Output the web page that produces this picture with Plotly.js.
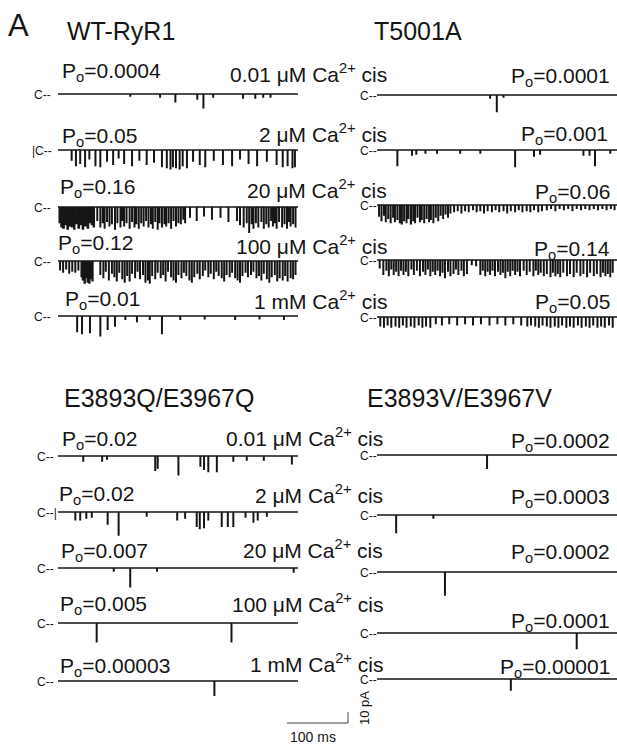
<!DOCTYPE html>
<html><head><meta charset="utf-8">
<script src="https://cdn.plot.ly/plotly-3.0.1.min.js"></script>
<style>html,body{margin:0;padding:0;background:#fff}#chart{width:617px;height:748px}</style>
</head><body><div id="chart"></div>
<script>
// ---------- DATA ----------
// Each event: [time ms, opening amplitude pA, duration ms (optional)]
const WT_001 = [[118,1.8],[167,2.7],[192,7],[228,4.5],[238,12.5],[254,2.7],[303,3.6],[323,3.6],[336,2.7],[348,2.7]];
const WT_2 = [[22,9],[29,14],[36,12],[44,15],[51,8],[61,14],[69,15],[80,10],[90,13],[99,7],[108,12],[121,14],[133,9],[145,13],[157,11],[170,15],[178,16],[184,17],[188,15],[193,16],[199,17],[204,14],[211,16],[221,10],[232,13],[241,15],[255,9],[270,13],[285,14],[298,8],[312,12],[326,14],[342,10],[358,13],[368,15],[376,14],[384,16],[388,15]];
const WT_20 = [[2,14,1.2],[5,18,1.5],[8,19,2],[12,16,1.2],[15,20,1.8],[19,17,1.2],[22,18,2],[26,20,1.5],[30,15,1.2],[33,19,2],[37,16,1.2],[40,20,1.8],[44,17,1.5],[48,19,2],[52,14,1.2],[55,16,1.2],[58,18,1.5],[64,12],[69,18],[73,14],[76,19],[80,13],[84,17],[88,15],[93,20],[97,14],[102,18],[105,12],[108,17],[112,14],[117,19],[121,13],[125,18],[128,15],[132,19],[136,14],[140,17],[144,12],[148,18],[152,15],[155,19],[159,13],[163,20],[166,14],[170,18],[174,15],[177,17],[181,14],[185,19],[189,12],[193,17],[197,14],[201,15],[205,11],[208,14],[216,9],[227,12],[239,8],[252,11],[266,9],[279,13],[293,12],[298,16],[304,18],[309,14],[313,23],[317,15],[320,19],[324,14],[328,18],[333,13],[337,19],[341,15],[345,18],[349,12],[352,17],[355,14],[358,19],[362,13],[367,18],[371,15],[375,19],[378,13],[381,17],[385,15],[389,18]];
const WT_100 = [[3,8],[8,10],[13,7],[18,11],[23,9],[28,10],[33,8],[38,14],[40,17,1.2],[43,20,1.5],[46,15],[48,19,1.5],[51,20,1.2],[53,16],[56,18,1.2],[69,12],[74,15],[78,9],[83,17],[88,11],[92,14],[96,18],[100,10],[105,16],[109,19],[113,13],[117,18],[121,11],[126,15],[130,9],[134,16],[139,12],[143,19],[147,17],[150,20],[154,13],[159,16],[163,10],[168,15],[172,12],[176,18],[180,9],[185,14],[189,17],[193,19],[197,12],[202,15],[206,10],[210,13],[215,17],[219,19],[223,14],[228,11],[232,16],[237,13],[241,8],[246,14],[250,11],[255,16],[259,9],[263,13],[268,15],[272,18],[276,12],[281,14],[285,10],[290,15],[294,17],[298,19],[302,13],[307,10],[311,14],[316,12],[320,9],[325,15],[329,13],[333,17],[337,11],[342,16],[346,19],[350,14],[355,12],[359,18],[363,15],[368,17],[372,13],[376,18],[381,15],[385,16],[389,12]];
const WT_1MM = [[31,14],[39,16],[52,15],[69,18],[81,12],[93,9],[110,3],[129,5],[150,3],[170,16],[200,3],[240,2.5],[290,3],[330,2.5],[370,3]];

const T_001 = [[185,2.7],[196,15],[207,1.8]];
const T_2 = [[33,14],[57,4.5],[64,3.6],[79,2.7],[98,2.7],[136,2.7],[169,2.7],[226,15],[257,5.5],[267,3.6],[338,4.5],[348,4.5],[357,14],[382,2.7]];
const T_20 = [[3,10],[7,14],[11,9],[14,15],[18,12],[22,16],[26,11],[29,15],[33,13],[37,16],[40,17,1.2],[44,14],[48,16],[51,12],[55,17,1.2],[59,14],[62,16],[66,11],[70,15],[73,13],[77,16],[81,12],[85,15],[88,13],[92,16],[96,11],[100,14],[104,9],[108,12],[112,8],[116,11],[120,7],[126,6],[132,5],[138,7],[144,5],[150,6],[157,4],[163,6],[169,5],[175,7],[181,5],[188,6],[194,4],[200,6],[207,5],[213,7],[219,5],[226,6],[232,4],[238,6],[245,5],[251,6],[257,4],[264,6],[270,5],[278,4],[285,3],[292,5],[299,3],[306,4],[313,3],[320,5],[327,3],[334,4],[341,3],[348,4],[355,3],[362,4],[369,3],[376,4],[383,3],[389,4]];
const T_100 = [[4,7],[10,13],[15,9],[19,14],[23,8],[27,13],[31,10],[35,14],[39,9],[43,13],[47,10],[51,14],[56,8],[60,13],[65,9],[70,14],[75,10],[79,13],[83,8],[87,14],[91,10],[95,13],[99,9],[103,14],[107,11],[111,16],[116,10],[120,14],[125,12],[129,8],[133,13],[138,9],[142,14],[147,12],[155,4],[162,5],[169,13],[173,9],[177,14],[181,10],[185,13],[189,9],[193,14],[198,10],[202,13],[206,11],[210,16],[214,10],[218,14],[222,9],[226,13],[230,10],[234,14],[240,9],[245,13],[250,10],[256,14],[260,9],[264,13],[268,11],[273,14],[278,12],[284,15],[288,11],[292,14],[296,12],[300,15],[305,11],[311,14],[316,12],[322,15],[327,11],[333,14],[338,12],[344,15],[349,11],[355,14],[360,12],[366,15],[370,11],[374,14],[378,12],[382,15],[386,11]];
const T_1MM = [[5,8],[11,9],[17,7],[23,9],[30,8],[36,9],[42,7],[48,9],[55,8],[61,9],[68,7],[74,9],[80,8],[87,9],[96,6],[106,7],[118,6],[131,7],[144,6],[157,7],[170,6],[184,7],[197,6],[210,7],[223,6],[236,7],[246,8],[252,7],[259,8],[265,9],[271,7],[278,8],[284,9],[291,8],[297,9],[303,7],[310,9],[316,8],[322,9],[329,7],[335,9],[342,8],[348,9],[354,7],[361,9],[367,8],[373,9],[380,7],[386,9]];

const Q_001 = [[41,4.5],[72,4.5],[80,2.7],[159,13],[163,11],[197,17],[233,9],[239,12],[246,14],[260,14],[287,4.5],[309,3.6],[337,3.6],[383,7]];
const Q_2 = [[28,7],[36,7],[46,5.5],[55,4.5],[81,11],[99,21],[145,3.6],[195,7],[208,5.5],[227,13],[232,15],[239,14],[246,7],[268,13],[278,13],[287,13],[307,4.5],[320,9],[327,7],[342,3.6]];
const Q_20 = [[91,2.7],[118,17],[162,2.7],[386,3.6]];
const Q_100 = [[63,17],[284,17]];
const Q_1MM = [[256,13]];

const V_001 = [[180,12]];
const V_2 = [[31,16],[92,2.7]];
const V_20 = [[111,21]];
const V_100 = [[327,14]];
const V_1MM = [[219,10]];

const TITLES = ["WT-RyR1","T5001A","E3893Q/E3967Q","E3893V/E3967V"];
const CA_LABELS = ["0.01 μM","2 μM","20 μM","100 μM","1 mM"];
const PO_WT = ["0.0004","0.05","0.16","0.12","0.01"];
const PO_T = ["0.0001","0.001","0.06","0.14","0.05"];
const PO_Q = ["0.02","0.02","0.007","0.005","0.00003"];
const PO_V = ["0.0002","0.0003","0.0002","0.0001","0.00001"];
const C_WT = ["C--","|C--","C--","C--","C--"];
const C_Q = ["C--","C--|","C--","C--","C--"];
const C_PLAIN = ["C--","C--","C--","C--","C--"];
const SCALE_MS = 100, SCALE_PA = 10;

// ---------- LAYOUT (positions in page pixels) ----------
const W = 617, H = 748;
const PX_PER_MS = 0.61, PX_PER_PA = 1.1;
const TRACE_W = 240, ABOVE = 8, BELOW = 34;
const FONT = "Liberation Sans, Arial, sans-serif";
const INK = "#151515";

const panels = [
  {x0:58,  bases:[94,150,207,261,316], traces:[WT_001,WT_2,WT_20,WT_100,WT_1MM], po:PO_WT, cl:C_WT,
   poSide:"left", poX:[60,60,58,56,63], poY:[72,137,188,244,300], cLabelX:[32,30,32,32,32],
   caX:389, caY:[73,133,189,245,300], title:[65,31]},
  {x0:377, bases:[95,150,205,260,317], traces:[T_001,T_2,T_20,T_100,T_1MM], po:PO_T, cl:C_PLAIN,
   poSide:"right", poX:[612,610,612,612,612], poY:[77,135,193,250,303], cLabelX:[358,358,358,358,358],
   title:[372,31]},
  {x0:58,  bases:[456,512,568,623,681], traces:[Q_001,Q_2,Q_20,Q_100,Q_1MM], po:PO_Q, cl:C_Q,
   poSide:"left", poX:[60,57,59,58,58], poY:[440,495,552,605,667], cLabelX:[35,35,35,35,35],
   caX:385, caY:[437,494,549,603,663], title:[62,398]},
  {x0:377, bases:[455,515,572,633,679], traces:[V_001,V_2,V_20,V_100,V_1MM], po:PO_V, cl:C_PLAIN,
   poSide:"right", poX:[612,612,612,612,612], poY:[442,498,553,622,668], cLabelX:[358,358,358,358,358],
   title:[365,398]}
];

const px = x => x / W;
const py = y => 1 - y / H;

function eventPath(events, T) {
  const ev = events.slice().sort((a,b)=>a[0]-b[0]);
  const xs = [0], ys = [0];
  ev.forEach(e => {
    const t = e[0], a = e[1], d = e[2] || 0.8;
    xs.push(t, t, t + d, t + d);
    ys.push(0, -a, -a, 0);
  });
  xs.push(T); ys.push(0);
  return {xs, ys};
}

const data = [];
const layout = {
  width: W, height: H, margin: {l:0, r:0, t:0, b:0},
  paper_bgcolor: "#fff", plot_bgcolor: "rgba(0,0,0,0)",
  showlegend: false, annotations: [], font: {family: FONT, color: INK}
};

let n = 0;
function addAxes(xDomPx, xRange, yTopPx, yBotPx, yRange) {
  n += 1;
  const s = n === 1 ? "" : String(n);
  layout["xaxis" + s] = {domain:[px(xDomPx[0]), px(xDomPx[1])], range:xRange, visible:false, fixedrange:true, anchor:"y"+s};
  layout["yaxis" + s] = {domain:[py(yBotPx), py(yTopPx)], range:yRange, visible:false, fixedrange:true, anchor:"x"+s};
  return {xa:"x"+s, ya:"y"+s};
}

function caText(c) { return c + " Ca<sup>2+</sup> cis"; }

panels.forEach((p, pi) => {
  const T = TRACE_W / PX_PER_MS;
  p.traces.forEach((ev, ri) => {
    const base = p.bases[ri];
    const ax = addAxes([p.x0, p.x0 + TRACE_W], [0, T], base - ABOVE, base + BELOW,
                       [-BELOW / PX_PER_PA, ABOVE / PX_PER_PA]);
    const path = eventPath(ev, T);
    data.push({type:"scatter", mode:"lines", x:path.xs, y:path.ys, xaxis:ax.xa, yaxis:ax.ya,
               line:{color:INK, width:1.5}, hoverinfo:"skip"});
    layout.annotations.push({xref:"paper", yref:"paper", x:px(p.cLabelX[ri]), y:py(base+1), xanchor:"left", yanchor:"middle",
      text:p.cl[ri], showarrow:false, font:{size:12, family:FONT, color:INK}});
    layout.annotations.push({xref:"paper", yref:"paper", x:px(p.poX[ri]), y:py(p.poY[ri]), xanchor:p.poSide, yanchor:"middle",
      text:"P<sub>o</sub>=" + p.po[ri], showarrow:false, font:{size:21, family:FONT, color:INK}});
    if (p.caX) {
      layout.annotations.push({xref:"paper", yref:"paper", x:px(p.caX), y:py(p.caY[ri]), xanchor:"right", yanchor:"middle",
        text:caText(CA_LABELS[ri]), showarrow:false, font:{size:21, family:FONT, color:INK}});
    }
  });
  layout.annotations.push({xref:"paper", yref:"paper", x:px(p.title[0]), y:py(p.title[1]), xanchor:"left", yanchor:"middle",
    text:TITLES[pi], showarrow:false, font:{size:25, family:FONT, color:INK}});
});

// panel letter
layout.annotations.push({xref:"paper", yref:"paper", x:px(6), y:py(25), xanchor:"left", yanchor:"middle",
  text:"A", showarrow:false, font:{size:31, family:FONT, color:INK}});

// scale bar drawn through its own axes
const SB_X0 = 287, SB_Y = 723;
const sbW = SCALE_MS * PX_PER_MS, sbH = SCALE_PA * PX_PER_PA;
const sax = addAxes([SB_X0, SB_X0 + sbW + 2], [0, (sbW + 2) / PX_PER_MS], SB_Y - sbH - 2, SB_Y + 2,
                    [-2 / PX_PER_PA, (sbH + 2) / PX_PER_PA]);
data.push({type:"scatter", mode:"lines", x:[0, SCALE_MS, SCALE_MS], y:[0, 0, SCALE_PA],
  xaxis:sax.xa, yaxis:sax.ya, line:{color:"#444", width:1}, hoverinfo:"skip"});
layout.annotations.push({xref:"paper", yref:"paper", x:px(313), y:py(737), xanchor:"center", yanchor:"middle",
  text:SCALE_MS + " ms", showarrow:false, font:{size:14, family:FONT, color:INK}});
layout.annotations.push({xref:"paper", yref:"paper", x:px(364), y:py(708), xanchor:"center", yanchor:"middle",
  text:SCALE_PA + " pA", textangle:-90, showarrow:false, font:{size:13, family:FONT, color:INK}});

Plotly.newPlot("chart", data, layout, {staticPlot:true, displayModeBar:false});
</script></body></html>
